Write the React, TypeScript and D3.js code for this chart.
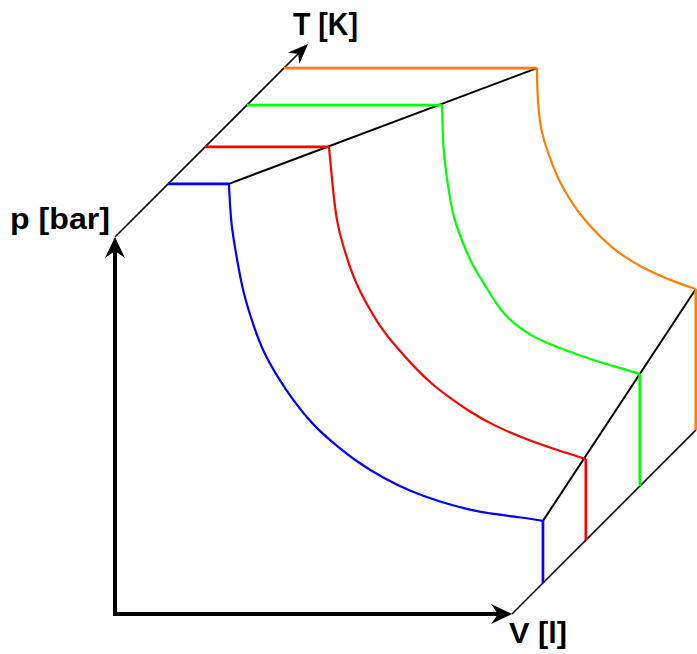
import React from "react";
import * as d3 from "d3";

const WIDTH = 697;
const HEIGHT = 654;

// Axis labels
const labelP = "p [bar]";
const labelV = "V [l]";
const labelT = "T [K]";

// Isotherm colours, from coldest to hottest
const isothermColors = ["#0000ff", "#ff0000", "#00ff00", "#ff8000"];

// Projected isotherm curves, [V, p] in diagram units (axis box spans 0–100)
const isothermCold: [number, number][] = [
  [28.7, 114.1], [29.2, 103.2], [30.7, 94.4], [32.2, 85.4], [34.8, 76.7],
  [37.3, 69.5], [41.1, 62.6], [45.3, 56.0], [49.9, 50.1], [54.9, 45.4],
  [61.0, 40.3], [67.5, 36.1], [74.3, 32.6], [81.9, 29.7], [89.4, 27.6],
  [95.2, 26.5], [102.0, 25.7], [107.8, 24.7],
];
const isothermCool: [number, number][] = [
  [53.9, 123.9], [54.9, 112.5], [55.9, 103.2], [58.4, 94.4], [60.5, 88.1],
  [63.5, 82.0], [66.8, 76.1], [71.0, 70.6], [76.1, 64.7], [80.1, 60.7],
  [84.4, 57.3], [89.4, 53.6], [95.2, 50.1], [103.8, 46.2], [111.3, 43.5],
  [118.6, 41.1],
];
const isothermWarm: [number, number][] = [
  [82.4, 135.0], [82.6, 123.1], [83.9, 113.3], [85.1, 105.8], [86.9, 100.3],
  [89.9, 92.6], [93.2, 87.3], [97.0, 80.6], [100.3, 77.2], [104.5, 74.0],
  [108.8, 71.9], [113.9, 69.8], [118.9, 67.9], [124.7, 66.0], [132.2, 63.7],
];
const isothermHot: [number, number][] = [
  [106.3, 144.8], [106.3, 139.0], [107.1, 128.4], [109.1, 122.3], [111.6, 115.1],
  [115.4, 108.5], [119.1, 103.4], [124.7, 97.3], [132.2, 92.0], [141.6, 87.8],
  [146.3, 86.2],
];

const isotherms = [isothermCold, isothermCool, isothermWarm, isothermHot];

export default function App() {
  const x = d3.scaleLinear().domain([0, 100]).range([115, 512]);
  const y = d3.scaleLinear().domain([0, 100]).range([614, 237]);
  // Length of the T axis, measured along its 45° diagonal
  const depth = d3.scaleLinear().domain([0, 100]).range([0, 193]);

  const line = d3
    .line<[number, number]>()
    .x((d) => x(d[0]))
    .y((d) => y(d[1]))
    .curve(d3.curveBasis);

  const x0 = x(0);
  const yTop = y(100);
  const tTip = [x0 + depth(100), yTop - depth(100)];

  // point on the back floor edge (V = max, p = 0 running along T)
  const floorY = (px: number) => y(0) - (px - x(100));

  const first = isotherms.map((c) => [x(c[0][0]), y(c[0][1])]);
  const last = isotherms.map((c) => {
    const p = c[c.length - 1];
    return [x(p[0]), y(p[1])];
  });

  const arrow = (tx: number, ty: number, angle: number, len: number, half: number, notch: number) => (
    <path
      d={`M0,0 L${-len},${-half} L${-len + notch},0 L${-len},${half} Z`}
      transform={`translate(${tx},${ty}) rotate(${angle})`}
      fill="#000"
    />
  );

  const font = "'Liberation Sans', Arial, Helvetica, sans-serif";

  return (
    <svg
      width={WIDTH}
      height={HEIGHT}
      style={{ position: "absolute", left: 0, top: 0, background: "#fff" }}
    >
      {/* T axis */}
      <line x1={x0} y1={yTop} x2={tTip[0] - 8} y2={tTip[1] + 8} stroke="#000" strokeWidth={1.6} />
      {arrow(tTip[0], tTip[1], -45, 20, 8, 6)}

      {/* back edges of the surface */}
      <line x1={first[0][0]} y1={first[0][1]} x2={first[3][0]} y2={first[3][1]} stroke="#000" strokeWidth={2} />
      <line x1={last[0][0]} y1={last[0][1]} x2={last[3][0]} y2={last[3][1]} stroke="#000" strokeWidth={2} />
      <line x1={x(100)} y1={y(0)} x2={last[3][0]} y2={floorY(last[3][0])} stroke="#000" strokeWidth={1.6} />

      {/* isotherms */}
      {isotherms.map((c, i) => {
        const [fx, fy] = first[i];
        const [lx, ly] = last[i];
        const startX = x0 + (yTop - fy);
        return (
          <g key={i} stroke={isothermColors[i]} fill="none">
            <line x1={startX} y1={fy} x2={fx} y2={fy} strokeWidth={2.7} />
            <path d={line(c) ?? ""} strokeWidth={2.2} strokeLinejoin="round" />
            <line x1={lx} y1={ly} x2={lx} y2={floorY(lx)} strokeWidth={2.7} />
          </g>
        );
      })}

      {/* p and V axes */}
      <path
        d={`M${x0},${yTop + 14} L${x0},${y(0)} L${x(100) - 14},${y(0)}`}
        stroke="#000"
        strokeWidth={4}
        fill="none"
        strokeLinejoin="miter"
        strokeLinecap="butt"
      />
      {arrow(x0, yTop, -90, 21, 10, 7)}
      {arrow(x(100), y(0), 0, 21, 10, 7)}

      {/* labels */}
      <text x={10} y={229} fontFamily={font} fontWeight="bold" fontSize={29} textLength={100} lengthAdjust="spacingAndGlyphs">
        {labelP}
      </text>
      <text x={293} y={35} fontFamily={font} fontWeight="bold" fontSize={31} textLength={65} lengthAdjust="spacingAndGlyphs">
        {labelT}
      </text>
      <text x={509} y={643} fontFamily={font} fontWeight="bold" fontSize={29} textLength={58} lengthAdjust="spacingAndGlyphs">
        {labelV}
      </text>
    </svg>
  );
}
